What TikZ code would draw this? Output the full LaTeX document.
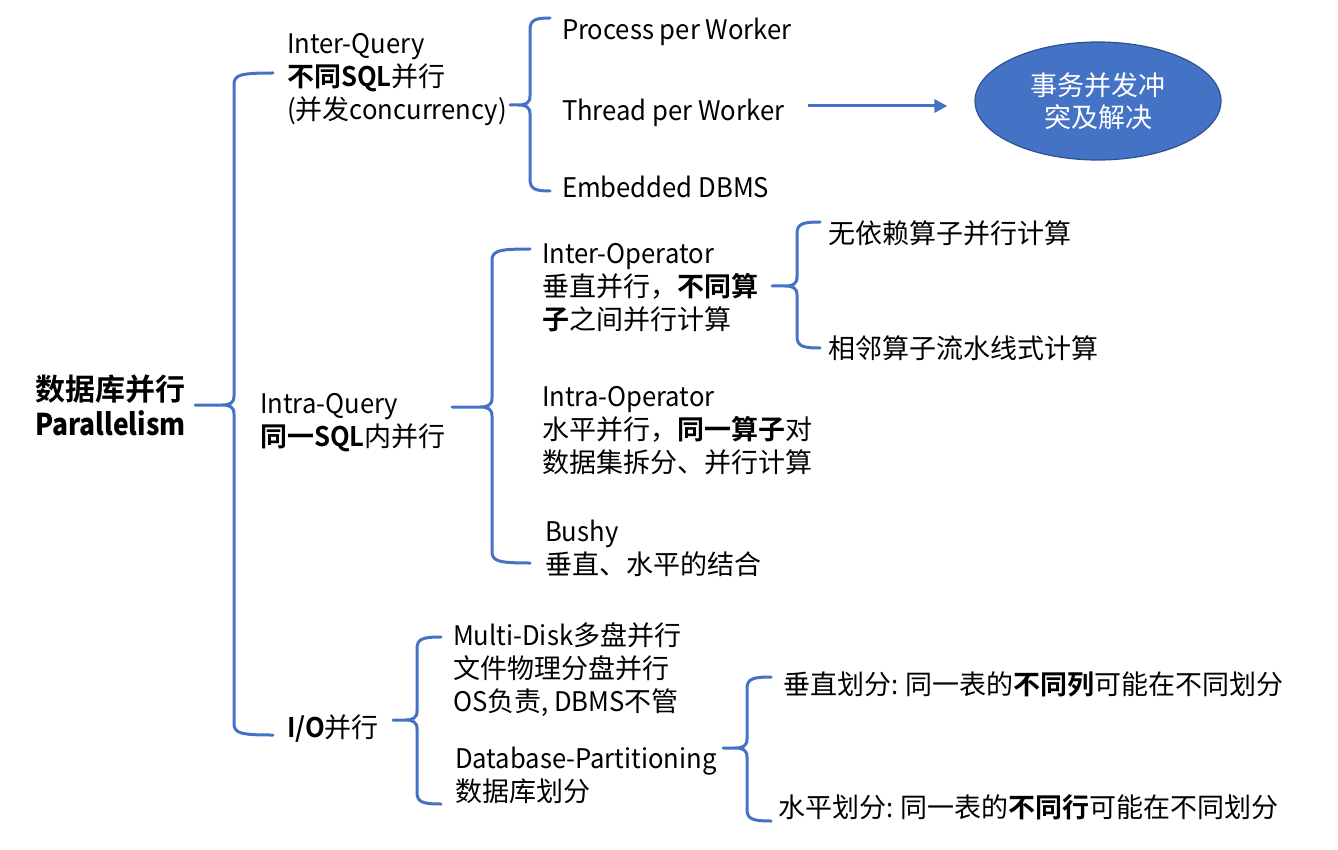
\documentclass[tikz,border=0pt]{standalone}
\usepackage{fontspec}
\setmainfont{Noto Sans CJK SC}[BoldFont={Noto Sans CJK SC Bold}]
\newfontfamily\latf{Noto Sans CJK SC}[BoldFont={Noto Sans CJK SC Bold}, FakeStretch=0.95]
\newfontfamily\latroot{Noto Sans CJK SC Bold}[FakeStretch=0.88]
\newcommand\lt[1]{{\latf #1}}
\usetikzlibrary{arrows.meta,shapes.geometric}
\definecolor{brc}{HTML}{4472C4}
\definecolor{ellb}{HTML}{2F528F}
\newcommand\lnst{\rule[-6pt]{0pt}{30pt}}
\newcommand\mybrace[6]{% tip x, vertical x, end x, top y, mid y, bottom y
  \draw[bracestyle] (#3,#4) .. controls ({#2+5},#4) and (#2,{#4+2}) .. (#2,{#4+12})
    -- (#2,{#5-9}) .. controls (#2,{#5-2}) and ({#2-4},#5) .. ({#2-12},#5) -- (#1,#5)
    -- ({#2-12},#5) .. controls ({#2-4},#5) and (#2,{#5+2}) .. (#2,{#5+9})
    -- (#2,{#6-12}) .. controls (#2,{#6-2}) and ({#2+5},#6) .. (#3,#6);}
\tikzset{
  bracestyle/.style={draw=brc, line width=3pt, line join=round, line cap=round},
  txt/.style={inner sep=0pt, outer sep=0pt, align=left, anchor=west, yshift=-2.5pt, font=\fontsize{27}{33}\selectfont},
  roottxt/.style={inner sep=0pt, outer sep=0pt, align=left, anchor=west, yshift=-2.5pt, font=\fontsize{30}{35}\selectfont\bfseries},
  arr/.style={draw=brc, line width=3pt, -{Triangle[length=13pt,width=13pt]}},
  ellnode/.style={ellipse, minimum width=246pt, minimum height=118pt, inner sep=0pt,
    fill=brc, draw=ellb, line width=1.2pt, text=white, align=center, font=\fontsize{27}{32}\selectfont}
}
\begin{document}
\begin{tikzpicture}[x=1pt,y=-1pt]
\useasboundingbox (0,0) rectangle (1338,850);
% text nodes
\node[roottxt] (root) at (35,406) {\lnst 数据库并行\\\lnst{\latroot Parallelism}};
\node[txt] (interq) at (287,75) {\lnst\lt{Inter-Query}\\\lnst\textbf{不同\lt{SQL}}并行\\\lnst\lt{(}并发\lt{concurrency)}};
\node[txt] (intraq) at (260,418.5) {\lnst\lt{Intra-Query}\\\lnst\textbf{同一\lt{SQL}}内并行};
\node[txt] (io) at (287,726) {\lnst\textbf{\lt{I/O}}并行};
\node[txt] (proc) at (562,28) {\lnst\lt{Process per Worker}};
\node[txt] (thread) at (562,109) {\lnst\lt{Thread per Worker}};
\node[txt] (embed) at (562,186) {\lnst\lt{Embedded DBMS}};
\node[txt] (interop) at (542,285) {\lnst\lt{Inter-Operator}\\\lnst 垂直并行，\textbf{不同算}\\\lnst\textbf{子}之间并行计算};
\node[txt] (intraop) at (542,427.5) {\lnst\lt{Intra-Operator}\\\lnst 水平并行，\textbf{同一算子}对\\\lnst 数据集拆分、并行计算};
\node[txt] (bushy) at (545,546.5) {\lnst\lt{Bushy}\\\lnst 垂直、水平的结合};
\node[txt] (nodep) at (828,232) {\lnst 无依赖算子并行计算};
\node[txt] (pipe) at (828,347) {\lnst 相邻算子流水线式计算};
\node[txt] (multi) at (453,667) {\lnst\lt{Multi-Disk}多盘并行\\\lnst 文件物理分盘并行\\\lnst\lt{OS}负责\lt{, DBMS}不管};
\node[txt] (dbpart) at (455,773.5) {\lnst\lt{Database-Partitioning}\\\lnst 数据库划分};
\node[txt] (vert) at (783,683) {\lnst 垂直划分\lt{: }同一表的\textbf{不同列}可能在不同划分};
\node[txt] (horiz) at (778,806) {\lnst 水平划分\lt{: }同一表的\textbf{不同行}可能在不同划分};
\node[ellnode] (ell) at (1098,101) {事务并发冲\\突及解决};
% braces
\mybrace{195}{234}{273}{73}{405}{735}
\mybrace{510}{530}{550}{18}{105}{191}
\mybrace{452}{492}{530}{249}{407}{563}
\mybrace{772}{797}{820}{222}{286}{348}
\mybrace{393}{417}{441}{637}{720}{804}
\mybrace{723}{747}{771}{677}{748}{821}
% arrow
\coordinate (arrs) at (808,106);
\draw[arr] (arrs) -- ([xshift=-27pt]ell.west |- arrs);
\end{tikzpicture}
\end{document}
